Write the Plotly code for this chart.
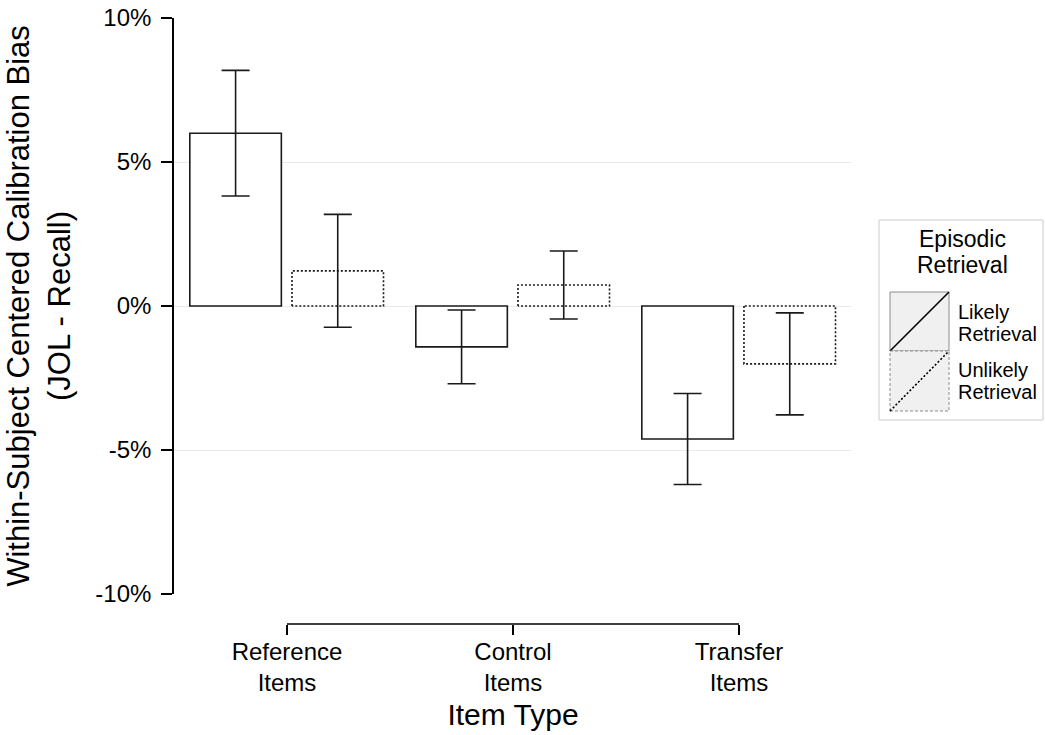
import plotly.graph_objects as go

# ---- data -------------------------------------------------------------
categories = ["Reference<br>Items", "Control<br>Items", "Transfer<br>Items"]
likely_bias = [6.0, -1.42, -4.62]        # % (JOL - Recall), likely retrieval
likely_ci = [2.18, 1.28, 1.58]
unlikely_bias = [1.22, 0.73, -2.01]      # % (JOL - Recall), unlikely retrieval
unlikely_ci = [1.96, 1.18, 1.77]
y_tick_vals = [-10, -5, 0, 5, 10]
y_tick_text = ["-10%", "-5%", "0%", "5%", "10%"]

# ---- geometry ---------------------------------------------------------
W, H = 1045, 735
ML, MR, MT, MB = 174, 193, 18, 111
PW, PH = W - ML - MR, H - MT - MB

def px_x(x):
    return (x - ML) / PW

def px_y(y):
    return (H - MB - y) / PH

BAR_W = 0.405
LIKELY_OFF = -0.43
UNLIKELY_OFF = 0.022
INK = "#1a1a1a"
xpos = list(range(len(categories)))

fig = go.Figure()

# likely retrieval: solid outlined bars
fig.add_trace(go.Bar(
    x=xpos, y=likely_bias, width=BAR_W, offset=LIKELY_OFF,
    marker=dict(color="white", line=dict(color=INK, width=1.6)),
    error_y=dict(type="data", array=likely_ci, color=INK, thickness=1.6, width=14),
    name="Likely Retrieval", showlegend=False,
))

# unlikely retrieval: white bars, dotted outline drawn separately
fig.add_trace(go.Bar(
    x=xpos, y=unlikely_bias, width=BAR_W, offset=UNLIKELY_OFF,
    marker=dict(color="white", line=dict(width=0)),
    error_y=dict(type="data", array=unlikely_ci, color=INK, thickness=1.6, width=14),
    name="Unlikely Retrieval", showlegend=False,
))
ox, oy = [], []
for xi, v in zip(xpos, unlikely_bias):
    x0, x1 = xi + UNLIKELY_OFF, xi + UNLIKELY_OFF + BAR_W
    ox += [x0, x0, x1, x1, x0, None]
    oy += [0, v, v, 0, 0, None]
fig.add_trace(go.Scatter(
    x=ox, y=oy, mode="lines", hoverinfo="skip", showlegend=False,
    line=dict(color=INK, width=1.6, dash="2px,2px"),
))

shapes = []
# range-frame x axis line between first and last category
shapes.append(dict(type="line", xref="x", yref="paper", x0=xpos[0], x1=xpos[-1],
                   y0=0, y1=0, line=dict(color="black", width=1.6)))

# legend box and keys
shapes.append(dict(type="rect", xref="paper", yref="paper",
                   x0=px_x(879), x1=px_x(1043), y0=px_y(420), y1=px_y(220),
                   line=dict(color="#cccccc", width=1), fillcolor="white", layer="below"))
shapes.append(dict(type="rect", xref="paper", yref="paper",
                   x0=px_x(890), x1=px_x(949), y0=px_y(351), y1=px_y(292),
                   line=dict(color="#8c8c8c", width=1), fillcolor="#f0f0f0"))
shapes.append(dict(type="line", xref="paper", yref="paper",
                   x0=px_x(890), x1=px_x(949), y0=px_y(351), y1=px_y(292),
                   line=dict(color="black", width=1.6)))
shapes.append(dict(type="rect", xref="paper", yref="paper",
                   x0=px_x(890), x1=px_x(949), y0=px_y(411), y1=px_y(351),
                   line=dict(color="#8c8c8c", width=1, dash="3px,2px"), fillcolor="#f0f0f0"))
shapes.append(dict(type="line", xref="paper", yref="paper",
                   x0=px_x(890), x1=px_x(949), y0=px_y(411), y1=px_y(351),
                   line=dict(color="black", width=1.6, dash="2px,2px")))

annotations = []
def legend_text(txt, x, y, size, anchor):
    annotations.append(dict(text=txt, xref="paper", yref="paper", x=px_x(x), y=px_y(y),
                            xanchor=anchor, yanchor="middle", showarrow=False,
                            font=dict(size=size, color="black")))

legend_text("Episodic", 962, 239, 23, "center")
legend_text("Retrieval", 962, 265, 23, "center")
legend_text("Likely", 956, 312, 20, "left")
legend_text("Retrieval", 956, 334, 20, "left")
legend_text("Unlikely", 956, 370, 20, "left")
legend_text("Retrieval", 956, 392, 20, "left")

fig.update_layout(
    width=W, height=H,
    margin=dict(l=ML, r=MR, t=MT, b=MB, autoexpand=False),
    paper_bgcolor="white", plot_bgcolor="white",
    font=dict(family="Liberation Sans, Arial, sans-serif", color="black"),
    barmode="overlay",
    shapes=shapes, annotations=annotations,
    xaxis=dict(
        range=[-0.5, 2.5], tickmode="array", tickvals=xpos, ticktext=categories,
        ticks="outside", ticklen=10, tickwidth=1.6, tickcolor="black",
        showline=False, showgrid=False, zeroline=False,
        anchor="free", position=0,
        tickfont=dict(size=24), ticklabelstandoff=-4,
        title=dict(text="Item Type", font=dict(size=30), standoff=8),
    ),
    yaxis=dict(
        domain=[px_y(594), 1], range=[-10, 10],
        tickmode="array", tickvals=y_tick_vals, ticktext=y_tick_text,
        ticks="outside", ticklen=11, tickwidth=1.6, tickcolor="black",
        showline=True, linecolor="black", linewidth=1.6,
        showgrid=True, gridcolor="#ebebeb", gridwidth=1, zeroline=False,
        tickfont=dict(size=24), ticklabelstandoff=5,
        title=dict(text="Within-Subject Centered Calibration Bias<br>(JOL - Recall)",
                   font=dict(size=31), standoff=16),
    ),
)

fig.write_html("out.html")
